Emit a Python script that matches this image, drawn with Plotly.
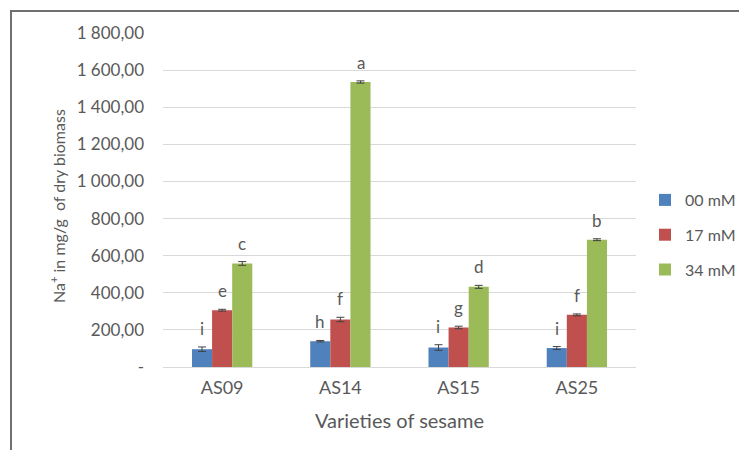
import plotly.graph_objects as go

varieties = ["AS09", "AS14", "AS15", "AS25"]
series_names = ["00 mM", "17 mM", "34 mM"]
values_00 = [96, 139, 105, 102]
values_17 = [306, 256, 213, 281]
values_34 = [558, 1536, 432, 686]
err_00 = [12, 4, 15, 8]
err_17 = [5, 12, 7, 5]
err_34 = [10, 6, 8, 5]
letters_00 = ["i", "h", "i", "i"]
letters_17 = ["e", "f", "g", "f"]
letters_34 = ["c", "a", "d", "b"]
colors = ["#4F81BD", "#C0504D", "#9BBB59"]
tick_vals = [0, 200, 400, 600, 800, 1000, 1200, 1400, 1600, 1800]
tick_text = ["-", "200,00", "400,00", "600,00", "800,00", "1 000,00",
             "1 200,00", "1 400,00", "1 600,00", "1 800,00"]
y_title = "Na<sup>+</sup> in mg/g  of dry biomass"
x_title = "Varieties of sesame"

font_family = "Lato, Open Sans, sans-serif"
grey = "#595959"

fig = go.Figure()
all_vals = [values_00, values_17, values_34]
all_errs = [err_00, err_17, err_34]
all_letters = [letters_00, letters_17, letters_34]
for i, name in enumerate(series_names):
    fig.add_trace(go.Bar(
        x=varieties, y=all_vals[i], name=name,
        marker=dict(color=colors[i], line=dict(width=0)),
        error_y=dict(type="data", array=all_errs[i], color="#404040",
                     thickness=1, width=4),
        legendgroup=name,
        offsetgroup=str(i),
    ))

n = len(series_names)
for i in range(n):
    for j, v in enumerate(varieties):
        fig.add_annotation(
            x=v, y=all_vals[i][j] + all_errs[i][j], text=all_letters[i][j],
            xref="x", yref="y", showarrow=False, yanchor="bottom", yshift=6,
            font=dict(family=font_family, size=17, color=grey),
            xshift=(i - 1) * 20.2,
        )

# page has an 8px body margin: figure pixel = page pixel - 8
OFF = 8
W, H = 747 - OFF, 450 - OFF
ml = 163 - OFF
mr = W - (636 - OFF)
mt = 33 - OFF
mb = H - (367 - OFF)
pw = W - ml - mr
ph = H - mt - mb

def px_x(page_x):
    return (page_x - OFF - ml) / pw

def px_y(page_y):
    return (H - mb - (page_y - OFF)) / ph

fig.add_shape(type="rect", xref="paper", yref="paper",
              x0=px_x(11), x1=px_x(W + 40),
              y0=px_y(H + 40), y1=px_y(11),
              line=dict(color="#707070", width=2), fillcolor="rgba(0,0,0,0)",
              layer="below")

# y-axis title as rotated annotation
fig.add_annotation(
    text=y_title, xref="paper", yref="paper",
    x=px_x(57), y=px_y(206), xanchor="center", yanchor="middle",
    textangle=-90, showarrow=False,
    font=dict(family=font_family, size=16, color=grey),
)

fig.update_layout(
    width=W, height=H,
    margin=dict(l=ml, r=mr, t=mt, b=mb, autoexpand=False),
    paper_bgcolor="white", plot_bgcolor="white",
    barmode="group", bargap=0.49, bargroupgap=0,
    font=dict(family=font_family, color=grey, size=16),
    legend=dict(x=px_x(645), y=px_y(183), xanchor="left",
                yanchor="top", traceorder="grouped", tracegroupgap=11,
                itemwidth=30,
                font=dict(size=16, color=grey), bgcolor="rgba(0,0,0,0)"),
    xaxis=dict(showgrid=False, showline=True, linecolor="#d9d9d9",
               automargin=False,
               ticks="", tickfont=dict(size=18, color=grey),
               ticklabelstandoff=4,
               title=dict(text=x_title, standoff=17,
                          font=dict(size=20, color=grey))),
    yaxis=dict(range=[0, 1800], tickvals=tick_vals, ticktext=tick_text,
               automargin=False,
               showgrid=True, gridcolor="#d9d9d9", gridwidth=1,
               zeroline=False, showline=False, ticks="", ticklen=0,
               ticklabelstandoff=18,
               tickfont=dict(size=17, color=grey)),
)

fig.write_html("out.html")
